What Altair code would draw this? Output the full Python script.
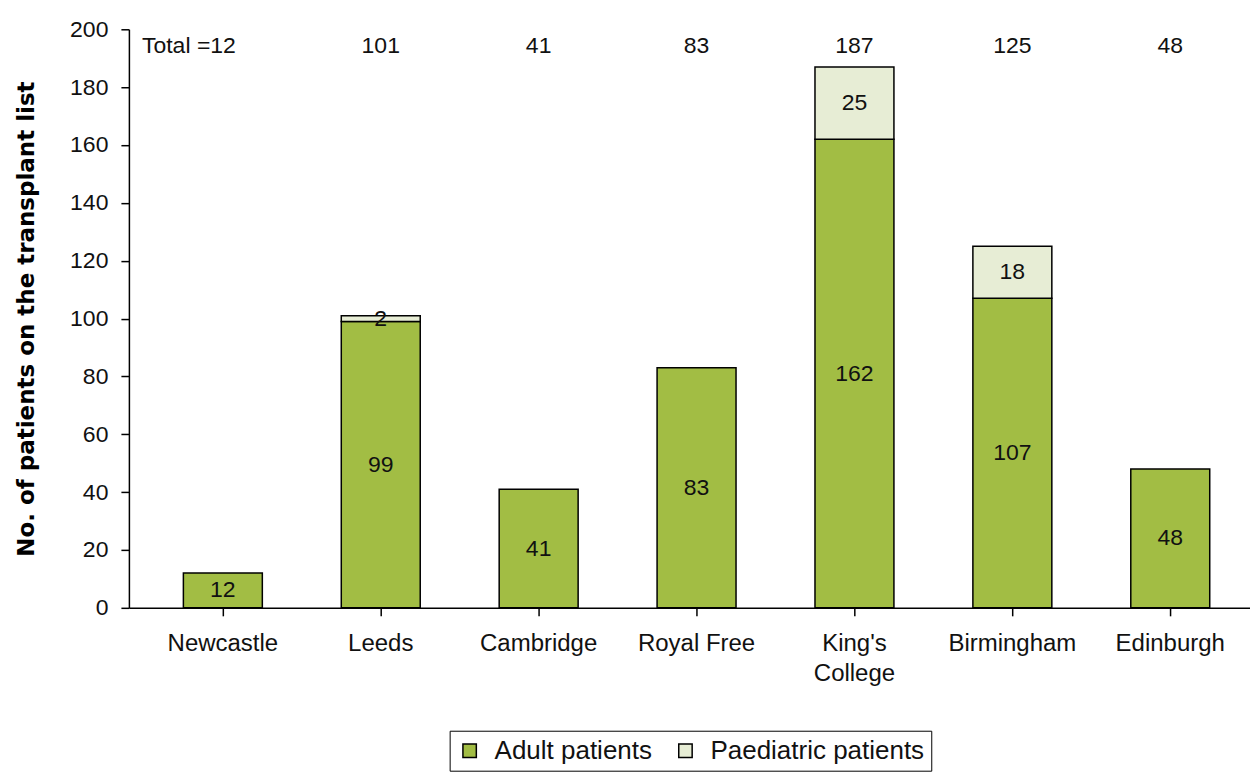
import altair as alt
import pandas as pd

centres = ["Newcastle", "Leeds", "Cambridge", "Royal Free", "King's College", "Birmingham", "Edinburgh"]
adult = [12, 99, 41, 83, 162, 107, 48]
paediatric = [0, 2, 0, 0, 25, 18, 0]
groups = ["Adult patients", "Paediatric patients"]
colors = ["#a2bd44", "#e7edd5"]

rows = []
for i, c in enumerate(centres):
    rows.append({"centre": c, "group": groups[0], "value": adult[i], "order": 0, "idx": i})
    rows.append({"centre": c, "group": groups[1], "value": paediatric[i], "order": 1, "idx": i})
df = pd.DataFrame(rows)

FONT = "Liberation Sans"
FS = 23

xenc = alt.X("centre:N", sort=centres, title=None,
             scale=alt.Scale(paddingInner=0.5, paddingOuter=0.3, align=0.575),
             axis=alt.Axis(labelAngle=0, labelFontSize=24, labelFont=FONT, labelColor="#111",
                           tickSize=8, tickColor="#000", domainColor="#000", domainWidth=1.5,
                           tickWidth=1.5, labelPadding=16, labelLineHeight=30,
                           labelExpr='datum.value == "King\'s College" ? ["King\'s", "College"] : datum.label'))

base = alt.Chart(df).transform_stack(
    stack="value", groupby=["centre"], as_=["y0", "y1"], sort=[alt.SortField("order")]
).transform_calculate(mid="(datum.y0 + datum.y1) / 2")

bars = base.transform_filter("datum.value > 0").mark_bar(stroke="#000", strokeWidth=1.5).encode(
    x=xenc,
    y=alt.Y("y0:Q", title="No. of patients on the transplant list",
            scale=alt.Scale(domain=[0, 200], nice=False),
            axis=alt.Axis(values=list(range(0, 201, 20)), grid=False, labelFontSize=FS, labelFont=FONT,
                          labelColor="#111", tickSize=8, tickColor="#000", domainColor="#000",
                          domainWidth=1.5, tickWidth=1.5, labelPadding=13,
                          titleFont="DejaVu Sans", titleFontSize=23, titleFontWeight="bold",
                          titleColor="#000", titlePadding=31)),
    y2="y1:Q",
    color=alt.Color("group:N", scale=alt.Scale(domain=groups, range=colors),
                    legend=alt.Legend(title=None, orient="none", legendX=321, legendY=702,
                                      direction="horizontal", symbolType="square", symbolSize=180,
                                      symbolStrokeColor="#000", symbolStrokeWidth=1.5,
                                      labelFontSize=26, labelFont=FONT, labelColor="#111",
                                      labelLimit=0, labelOffset=12, strokeColor="#000",
                                      padding=7, columnPadding=20, fillColor="white")),
)

labels = base.transform_filter("datum.value > 0").mark_text(
    font=FONT, fontSize=FS, color="#111", baseline="middle"
).encode(x=alt.X("centre:N", sort=centres), y=alt.Y("mid:Q"), text=alt.Text("value:Q"))

tot_base = alt.Chart(df).transform_aggregate(
    total="sum(value)", idx="min(idx)", groupby=["centre"]
)
totals = tot_base.transform_filter("datum.idx > 0").mark_text(
    font=FONT, fontSize=FS, color="#111", baseline="middle"
).encode(x=alt.X("centre:N", sort=centres), y=alt.value(17), text=alt.Text("total:Q"))
first_total = tot_base.transform_filter("datum.idx == 0").transform_calculate(
    lab="'Total =' + datum.total"
).mark_text(font=FONT, fontSize=FS, color="#111", baseline="middle", align="right", dx=13).encode(
    x=alt.X("centre:N", sort=centres), y=alt.value(17), text="lab:N")

chart = alt.layer(bars, labels, totals, first_total).properties(
    width=1122, height=579, padding={"left": 7, "top": 10, "right": 0, "bottom": 0}
).configure_view(stroke=None)

chart.save("out.html", embed_options={"renderer": "svg", "actions": False})
